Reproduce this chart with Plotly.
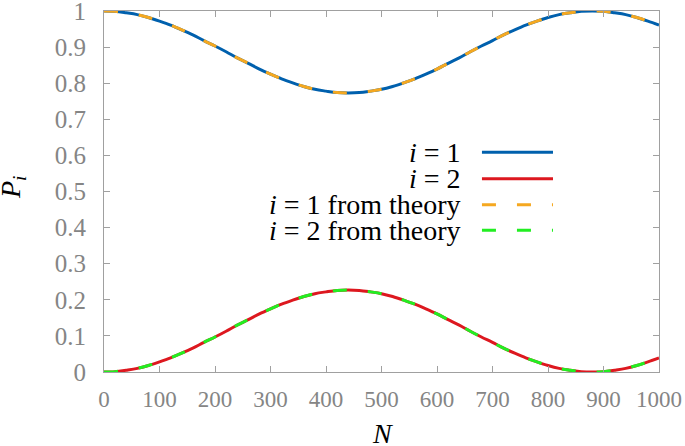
import plotly.graph_objects as go

# values, every 20 steps of N
n_values = list(range(0, 1001, 20))
p1_values = [
    1.000, 0.999, 0.995, 0.990, 0.982, 0.972, 0.961, 0.948, 0.934, 0.918,
    0.903, 0.887, 0.870, 0.855, 0.839, 0.825, 0.812, 0.801, 0.791, 0.783,
    0.778, 0.774, 0.773, 0.774, 0.778, 0.783, 0.791, 0.801, 0.812, 0.825,
    0.839, 0.855, 0.870, 0.887, 0.903, 0.918, 0.934, 0.948, 0.961, 0.972,
    0.982, 0.990, 0.995, 0.999, 1.000, 0.999, 0.995, 0.990, 0.982, 0.972,
    0.961,
]
p2_values = [
    0.000, 0.001, 0.005, 0.010, 0.018, 0.028, 0.039, 0.052, 0.066, 0.082,
    0.097, 0.113, 0.130, 0.145, 0.161, 0.175, 0.188, 0.199, 0.209, 0.217,
    0.222, 0.226, 0.227, 0.226, 0.222, 0.217, 0.209, 0.199, 0.188, 0.175,
    0.161, 0.145, 0.130, 0.113, 0.097, 0.082, 0.066, 0.052, 0.039, 0.028,
    0.018, 0.010, 0.005, 0.001, 0.000, 0.001, 0.005, 0.010, 0.018, 0.028,
    0.039,
]
# theory curves coincide with the simulated ones
p1_theory = p1_values
p2_theory = p2_values

x_ticks = [0, 100, 200, 300, 400, 500, 600, 700, 800, 900, 1000]
y_ticks = [0, 0.1, 0.2, 0.3, 0.4, 0.5, 0.6, 0.7, 0.8, 0.9, 1]
y_tick_labels = ["0", "0.1", "0.2", "0.3", "0.4", "0.5", "0.6", "0.7", "0.8", "0.9", "1"]

legend_labels = [
    "<i>i</i> = 1",
    "<i>i</i> = 2",
    "<i>i</i> = 1 from theory",
    "<i>i</i> = 2 from theory",
]

BLUE = "#0060ad"
RED = "#dd181f"
ORANGE = "#f5a820"
GREEN = "#22ee22"
GRAY = "#858585"
FONT = "Liberation Serif"
DASH = "14px,21px"

fig = go.Figure()
fig.add_trace(go.Scatter(x=n_values, y=p1_values, mode="lines", line_shape="spline",
                         line=dict(color=BLUE, width=3)))
fig.add_trace(go.Scatter(x=n_values, y=p2_values, mode="lines", line_shape="spline",
                         line=dict(color=RED, width=3)))
fig.add_trace(go.Scatter(x=n_values, y=p1_theory, mode="lines", line_shape="spline",
                         line=dict(color=ORANGE, width=3, dash=DASH)))
fig.add_trace(go.Scatter(x=n_values, y=p2_theory, mode="lines", line_shape="spline",
                         line=dict(color=GREEN, width=3, dash=DASH)))

# legend drawn by hand: text right-aligned, line sample to its right
row_y = [0.609, 0.535, 0.463, 0.393]
styles = [(BLUE, "solid"), (RED, "solid"), (ORANGE, DASH), (GREEN, DASH)]
for label, yy, (col, dash) in zip(legend_labels, row_y, styles):
    fig.add_annotation(x=0.647, y=yy, xref="paper", yref="paper", text=label,
                       showarrow=False, xanchor="right", yanchor="middle",
                       font=dict(family=FONT, size=28, color="black"))
    fig.add_shape(type="line", xref="paper", yref="paper", x0=0.681, x1=0.809,
                  y0=yy, y1=yy, line=dict(color=col, width=3, dash=dash))

# axis titles
fig.add_annotation(x=-0.166, y=0.512, xref="paper", yref="paper",
                   text="<i>P<sub>i</sub></i>", textangle=-90, showarrow=False,
                   xanchor="center", yanchor="middle",
                   font=dict(family=FONT, size=28, color="black"))
fig.add_annotation(x=0.501, y=-0.169, xref="paper", yref="paper",
                   text="<i>N</i>", showarrow=False,
                   xanchor="center", yanchor="middle",
                   font=dict(family=FONT, size=28, color="black"))

axis_common = dict(
    showgrid=False, zeroline=False, showline=True, linecolor="#a0a0a0", linewidth=1,
    mirror="ticks", ticks="inside", ticklen=6, tickcolor="#a0a0a0",
    automargin=False, ticklabeloverflow="allow",
)
fig.update_xaxes(range=[0, 1000], tickvals=x_ticks, ticklabelstandoff=6,
                 tickfont=dict(family=FONT, size=23, color=GRAY), **axis_common)
fig.update_yaxes(range=[0, 1], tickvals=y_ticks, ticktext=y_tick_labels,
                 ticklabelstandoff=12,
                 tickfont=dict(family=FONT, size=25, color=GRAY), **axis_common)

fig.update_layout(
    width=685, height=446,
    margin=dict(l=104, r=26, t=11, b=74),
    plot_bgcolor="white", paper_bgcolor="white",
    showlegend=False,
)
# drop the page's default body margin so the figure sits at the corner
fig.write_html("out.html", config={"displayModeBar": False},
               post_script="document.body.style.margin='0';")
